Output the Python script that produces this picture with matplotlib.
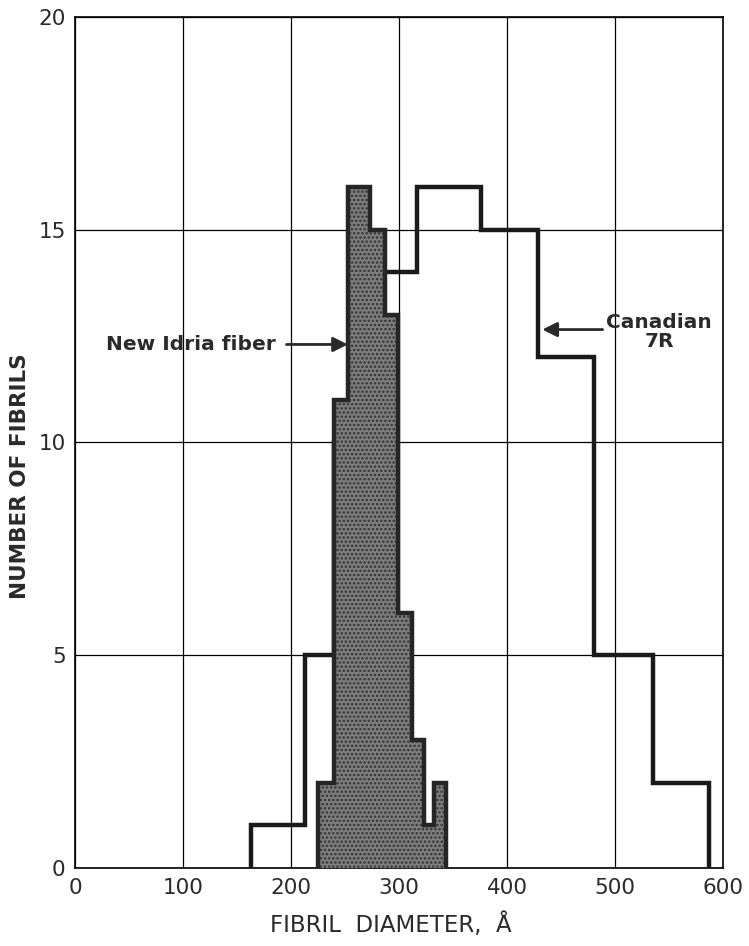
import matplotlib
matplotlib.use('Agg')
import matplotlib.pyplot as plt

# histogramme Canadian 7R (bords et comptes)
canadian_edges = [162.5, 212.5, 240, 265, 316.5, 375.5, 428.5, 480.5, 535, 587]
canadian_counts = [1, 5, 10, 14, 16, 15, 12, 5, 2]

# histogramme New Idria (partie grisee)
idria_edges = [225, 240, 253, 273, 287, 299, 312, 322.5, 332, 343.5]
idria_counts = [2, 11, 16, 15, 13, 6, 3, 1, 2]

x_ticks = [0, 100, 200, 300, 400, 500, 600]
y_ticks = [0, 5, 10, 15, 20]

ink = '#2a2a2a'

fig = plt.figure(figsize=(7.49, 9.46), dpi=100)
ax = fig.add_axes([0.1007, 0.0825, 0.8646, 0.8998])

ax.set_xlim(0, 600)
ax.set_ylim(0, 20)
ax.set_xticks(x_ticks)
ax.set_yticks(y_ticks)
ax.tick_params(length=0, labelsize=15.5, colors=ink, pad=7)
ax.grid(True, color='black', lw=0.9)
ax.set_axisbelow(True)
for s in ax.spines.values():
    s.set_linewidth(1.2)

# Canadian : trait epais
ax.stairs(canadian_counts, canadian_edges, baseline=0, color='#1a1a1a',
          lw=3.2, zorder=3)

# New Idria : remplissage pointille + contour
plt.rcParams['hatch.color'] = '#333333'
plt.rcParams['hatch.linewidth'] = 1.2
ax.stairs(idria_counts, idria_edges, baseline=0, fill=True,
          facecolor='#7e7e7e', edgecolor='#333333', hatch='....', lw=0, zorder=4)
ax.stairs(idria_counts, idria_edges, baseline=0, color='#262626', lw=3.2, zorder=5)

# fleches et textes
ax.annotate('', xy=(255, 12.3), xytext=(193, 12.3),
            arrowprops=dict(arrowstyle='-|>', color=ink, lw=2, mutation_scale=22),
            zorder=6)
ax.text(186, 12.3, 'New Idria fiber', ha='right', va='center',
        fontsize=14.5, fontweight='bold', color=ink)

ax.annotate('', xy=(430, 12.65), xytext=(491, 12.65),
            arrowprops=dict(arrowstyle='-|>', color=ink, lw=2, mutation_scale=22),
            zorder=6)
ax.text(541, 12.6, 'Canadian\n7R', ha='center', va='center',
        fontsize=14.5, fontweight='bold', color=ink, linespacing=1.0)

ax.set_xlabel('FIBRIL  DIAMETER,  Å', fontsize=16.5, color=ink)
ax.xaxis.set_label_coords(0.487, -0.052)
ax.set_ylabel('NUMBER OF FIBRILS', fontsize=15.5, fontweight='bold', color=ink)
ax.yaxis.set_label_coords(-0.07, 0.46)

fig.savefig('out.png', dpi=100, facecolor='white')
